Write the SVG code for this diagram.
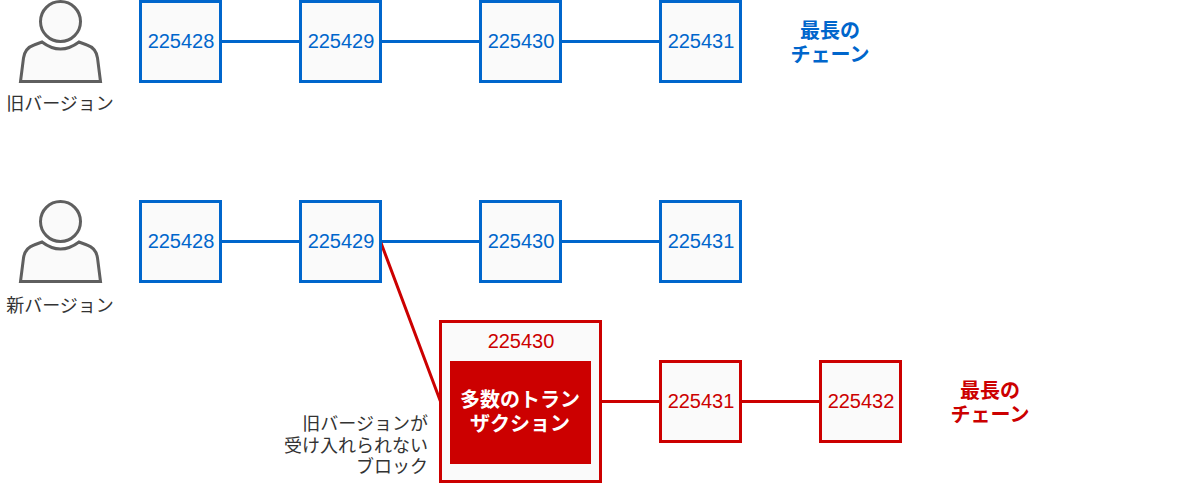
<svg xmlns="http://www.w3.org/2000/svg" width="1181" height="483" viewBox="0 0 1181 483">
<style>
text{font-family:"Liberation Sans","Noto Sans CJK JP",sans-serif;font-size:20px;text-anchor:middle}
.lbl{font-size:18px;fill:#333}
.b rect{fill:#fafafa;stroke:#0066cc;stroke-width:3}
.b text{fill:#0066cc}
.r rect{fill:#fafafa;stroke:#cc0000;stroke-width:3}
.r text{fill:#cc0000}
.cb{stroke:#0066cc;stroke-width:3;fill:none}
.cr{stroke:#cc0000;stroke-width:3;fill:none}
.bold{font-weight:bold;font-size:20px}
.p{fill:#fafafa;stroke:#5f5f5f;stroke-width:3}
</style>
<defs>
<g id="person"><circle cx="60.5" cy="21.5" r="20" class="p"/><path d="M20.5 81.5 L23.5 58 Q25 48 34 45 L42 42 Q60.5 56 79 42 L87 45 Q96 48 97.5 58 L100.5 81.5 Z" class="p"/></g>
</defs>
<g id="connectors">
<path class="cb" d="M220.5 41.5H300.5M380.5 41.5H480.5M560.5 41.5H660.5M220.5 241.5H300.5M380.5 241.5H480.5M560.5 241.5H660.5"/>
<path class="cr" d="M380.5 241.5L440.5 401.5M600.5 401.5H660.5M740.5 401.5H820.5"/>
</g>
<g id="user-old"><use href="#person"/><text class="lbl" x="60" y="110">旧バージョン</text></g>
<g id="user-new"><use href="#person" y="200"/><text class="lbl" x="60" y="312">新バージョン</text></g>
<g id="a1" class="b"><rect x="140.5" y="1.5" width="80" height="80"/><text x="181" y="48">225428</text></g>
<g id="a2" class="b"><rect x="300.5" y="1.5" width="80" height="80"/><text x="341" y="48">225429</text></g>
<g id="a3" class="b"><rect x="480.5" y="1.5" width="80" height="80"/><text x="521" y="48">225430</text></g>
<g id="a4" class="b"><rect x="660.5" y="1.5" width="80" height="80"/><text x="701" y="48">225431</text></g>
<g id="longest-old"><text class="bold" fill="#0066cc" x="830" y="38">最長の</text><text class="bold" fill="#0066cc" x="830" y="62">チェーン</text></g>
<g id="b1" class="b"><rect x="140.5" y="201.5" width="80" height="80"/><text x="181" y="248">225428</text></g>
<g id="b2" class="b"><rect x="300.5" y="201.5" width="80" height="80"/><text x="341" y="248">225429</text></g>
<g id="b3" class="b"><rect x="480.5" y="201.5" width="80" height="80"/><text x="521" y="248">225430</text></g>
<g id="b4" class="b"><rect x="660.5" y="201.5" width="80" height="80"/><text x="701" y="248">225431</text></g>
<g id="c3" class="r"><rect x="440.5" y="321.5" width="160" height="160"/><text x="521" y="348">225430</text></g>
<g id="tx"><rect x="450" y="361" width="141" height="103" fill="#cc0000"/><text class="bold" fill="#fff" x="520" y="407">多数のトラン</text><text class="bold" fill="#fff" x="520" y="431">ザクション</text></g>
<g id="c4" class="r"><rect x="660.5" y="361.5" width="80" height="80"/><text x="701" y="408">225431</text></g>
<g id="c5" class="r"><rect x="820.5" y="361.5" width="80" height="80"/><text x="861" y="408">225432</text></g>
<g id="longest-new"><text class="bold" fill="#cc0000" x="990" y="398">最長の</text><text class="bold" fill="#cc0000" x="990" y="422">チェーン</text></g>
<g id="note"><text class="lbl" style="text-anchor:end" x="428" y="430">旧バージョンが</text><text class="lbl" style="text-anchor:end" x="428" y="452">受け入れられない</text><text class="lbl" style="text-anchor:end" x="428" y="473">ブロック</text></g>
</svg>
